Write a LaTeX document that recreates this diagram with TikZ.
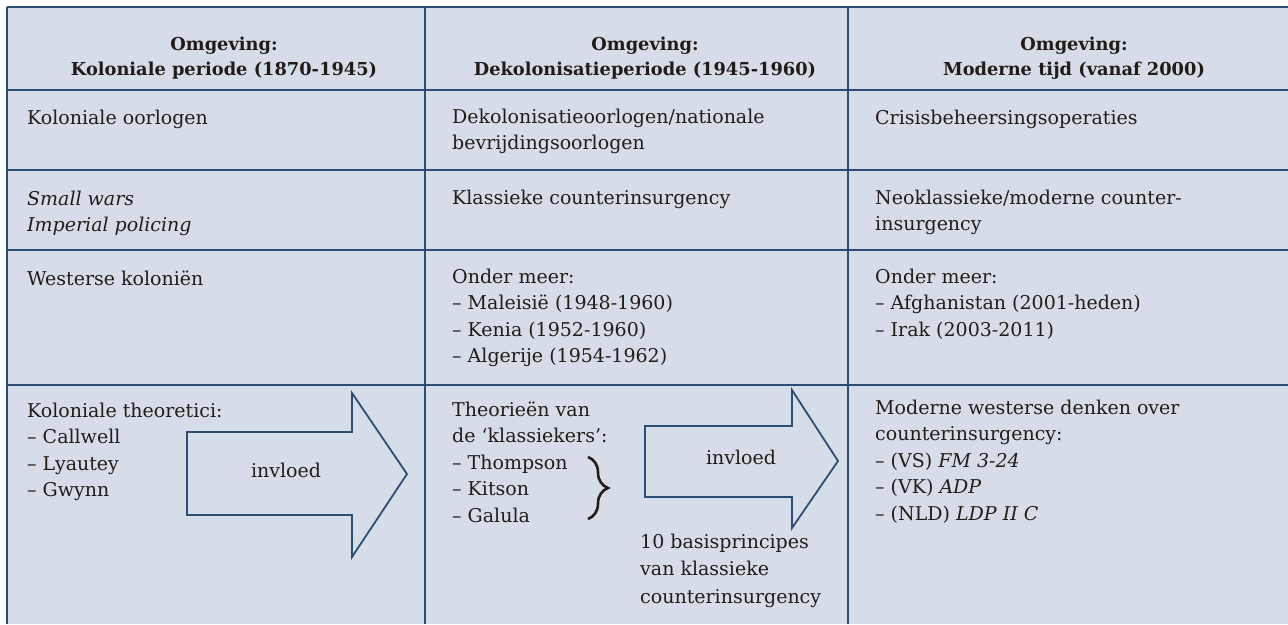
\documentclass[tikz,border=0pt]{standalone}
\usepackage{fontspec}
\setmainfont{DejaVu Serif}
\usetikzlibrary{decorations.pathreplacing}
\definecolor{bg}{RGB}{215,221,232}
\definecolor{rulec}{RGB}{44,78,118}
\definecolor{ink}{RGB}{34,28,24}
\newcommand{\cellfont}{\fontsize{19}{26.5}\selectfont}
\newcommand{\headfont}{\fontsize{17.8}{25}\selectfont\bfseries}
\newcommand{\basefont}{\fontsize{19}{27.5}\selectfont}
\newcommand{\lft}[1]{\begin{tabular}[t]{@{}l@{}}#1\end{tabular}}
\newcommand{\ctr}[1]{\begin{tabular}[t]{@{}c@{}}#1\end{tabular}}
\tikzset{
  cell/.style={anchor=base west, inner sep=0pt, text=ink, font=\cellfont},
  head/.style={anchor=base, inner sep=0pt, text=ink, font=\headfont},
  grid/.style={draw=rulec, line width=2.4pt},
  bigarrow/.style={draw=rulec, line width=1.8pt, line join=miter},
  arrowlabel/.style={anchor=center, inner sep=0pt, text=ink, font=\cellfont},
  bracestyle/.style={draw=ink, line width=2.6pt, decorate, decoration={brace, amplitude=20pt}},
}
\begin{document}
\begin{tikzpicture}[x=1pt,y=-1pt]
\useasboundingbox (0,0) rectangle (1288,624);
\fill[white] (0,0) rectangle (1288,624);
\fill[bg] (7,7) rectangle (1288,624);
% grid
\draw[grid] (7,7) -- (1288,7);
\draw[grid] (7,7) -- (7,624);
\draw[grid] (425,7) -- (425,624);
\draw[grid] (848,7) -- (848,624);
\draw[grid] (7,90) -- (1288,90);
\draw[grid] (7,170) -- (1288,170);
\draw[grid] (7,250) -- (1288,250);
\draw[grid] (7,385) -- (1288,385);
% header
\node[head] (h1) at (224,50) {\ctr{Omgeving:\\Koloniale periode (1870-1945)}};
\node[head] (h2) at (645,50) {\ctr{Omgeving:\\Dekolonisatieperiode (1945-1960)}};
\node[head] (h3) at (1074,50) {\ctr{Omgeving:\\Moderne tijd (vanaf 2000)}};
% row 1
\node[cell] (a1) at (27,124) {\lft{Koloniale oorlogen}};
\node[cell] (b1) at (452,123) {\lft{Dekolonisatieoorlogen/nationale\\bevrijdingsoorlogen}};
\node[cell] (c1) at (875,124) {\lft{Crisisbeheersingsoperaties}};
% row 2
\node[cell] (a2) at (27,205) {\lft{\textit{Small wars}\\\textit{Imperial policing}}};
\node[cell] (b2) at (452,204) {\lft{Klassieke counterinsurgency}};
\node[cell] (c2) at (875,204) {\lft{Neoklassieke/moderne counter-\\insurgency}};
% row 3
\node[cell] (a3) at (27,285) {\lft{Westerse koloniën}};
\node[cell] (b3) at (452,283) {\lft{Onder meer:\\– Maleisië (1948-1960)\\– Kenia (1952-1960)\\– Algerije (1954-1962)}};
\node[cell] (c3) at (875,283) {\lft{Onder meer:\\– Afghanistan (2001-heden)\\– Irak (2003-2011)}};
% row 4
\node[cell] (a4) at (27,417) {\lft{Koloniale theoretici:\\– Callwell\\– Lyautey\\– Gwynn}};
\node[cell] (b4) at (452,416) {\lft{Theorieën van\\de ‘klassiekers’:\\– Thompson\\– Kitson\\– Galula}};
\node[cell] (c4) at (875,414) {\lft{Moderne westerse denken over\\counterinsurgency:\\– (VS) \textit{FM 3-24}\\– (VK) \textit{ADP}\\– (NLD) \textit{LDP II C}}};
\node[cell, font=\basefont] (b5) at (640,548) {\lft{10 basisprincipes\\van klassieke\\counterinsurgency}};
% arrows
\draw[bigarrow] (187,432) -- (352,432) -- (352,393) -- (407,474) -- (352,557) -- (352,515) -- (187,515) -- cycle;
\node[arrowlabel] (inv1) at (286,470) {invloed};
\draw[bigarrow] (645,426) -- (792,426) -- (792,390) -- (838,461) -- (792,528) -- (792,497) -- (645,497) -- cycle;
\node[arrowlabel] (inv2) at (741,457) {invloed};
% brace
\coordinate (bt) at (588,457);
\coordinate (bb) at (588,519);
\draw[bracestyle] (bt) -- (bb);
\end{tikzpicture}
\end{document}
